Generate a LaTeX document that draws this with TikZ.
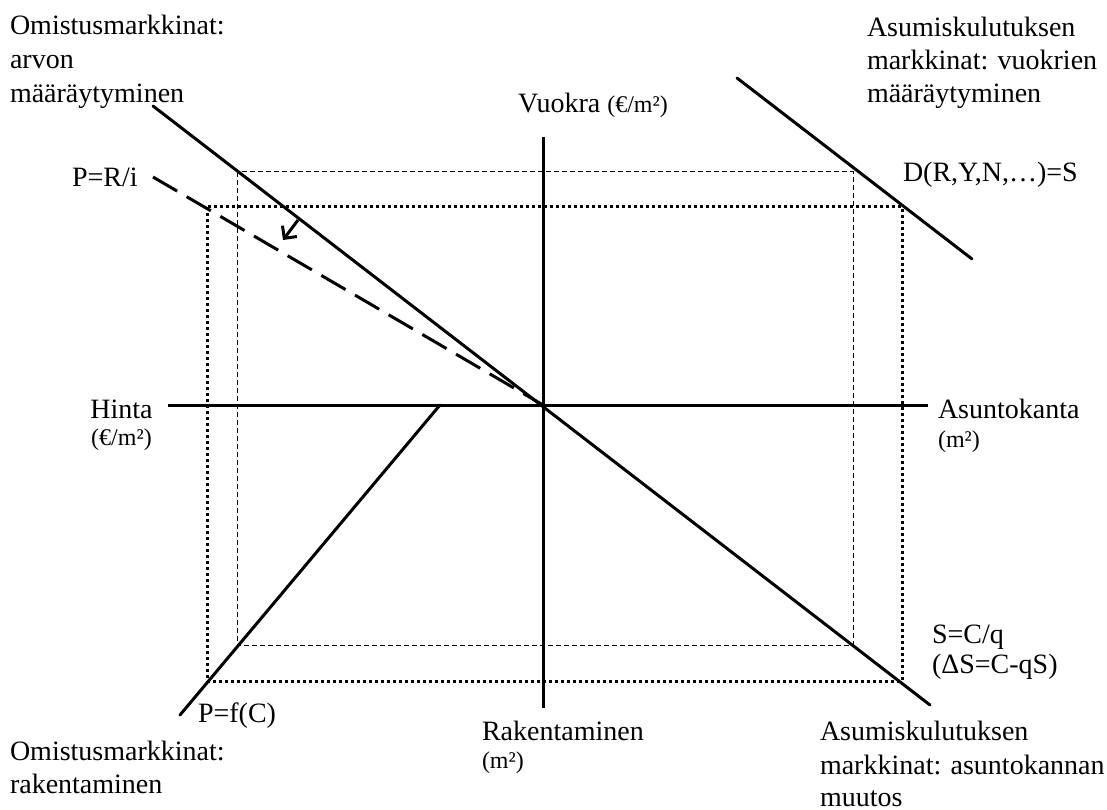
\documentclass[tikz,border=0pt]{standalone}
\usepackage{fontspec}
\setmainfont{Liberation Serif}
\usetikzlibrary{arrows.meta}
\tikzset{
  lbl/.style={inner sep=0pt, outer sep=0pt, font=\fontsize{28}{34}\selectfont},
  smalllbl/.style={inner sep=0pt, outer sep=0pt, font=\fontsize{24}{30}\selectfont},
  curve/.style={line width=3pt, line cap=round},
  axis/.style={line width=3pt},
  dotrect/.style={line width=3pt, dash pattern=on 3pt off 3pt},
  thinrect/.style={line width=1pt, dash pattern=on 5pt off 3pt},
  rdash/.style={line width=3pt, dash pattern=on 28pt off 11pt},
  shiftarrow/.style={line width=3pt, -{Straight Barb[length=9pt,width=18pt,line width=3pt]}},
}
\newcommand{\sm}[1]{{\fontsize{24}{30}\selectfont #1}}
\begin{document}
\begin{tikzpicture}[x=1pt,y=-1pt]
\useasboundingbox (0,0) rectangle (1107,810);
% coordinates
\coordinate (O) at (543,405);
\coordinate (vtop) at (543,137);
\coordinate (vbot) at (543,708);
\coordinate (hl) at (168,405);
\coordinate (hr) at (928,405);
\coordinate (m1) at (153,106);
\coordinate (m2) at (930,705);
\coordinate (d1) at (153,177);
\coordinate (u1) at (737,78);
\coordinate (u2) at (972,259);
\coordinate (c1) at (440,405);
\coordinate (c2) at (180,715);
\coordinate (at) at (298,220);
\coordinate (ah) at (283,240);
% rectangles
\draw[thinrect] (237,172) rectangle (853,645);
\draw[dotrect] (207,207) rectangle (902,681);
% axes
\draw[axis] (vtop) -- (vbot);
\draw[axis] (hl) -- (hr);
% curves
\draw[curve] (m1) -- (m2);
\draw[curve] (u1) -- (u2);
\draw[curve] (c1) -- (c2);
\draw[rdash] (d1) -- (O);
\draw[shiftarrow] (at) -- (ah);
% labels
\node[lbl, anchor=base west] (tl1) at (10,35) {Omistusmarkkinat:};
\node[lbl, anchor=base west] (tl2) at (10,69) {arvon};
\node[lbl, anchor=base west] (tl3) at (10,103) {määräytyminen};
\node[lbl, anchor=base west] (tr1) at (867,37) {Asumiskulutuksen};
\node[lbl, anchor=base west] (tr2) at (867,70) {markkinat: vuokrien};
\node[lbl, anchor=base west] (tr3) at (867,103) {määräytyminen};
\node[lbl, anchor=base west] (vu) at (518,113) {Vuokra \sm{(€/m²)}};
\node[lbl, anchor=base west] (pr) at (72,187) {P=R/i};
\node[lbl, anchor=base west] (dr) at (903,182) {D(R,Y,N,…)=S};
\node[lbl, anchor=base] (hi) at (121.5,418) {Hinta};
\node[smalllbl, anchor=base] (hi2) at (121.5,445) {(€/m²)};
\node[lbl, anchor=base west] (ak) at (938,418) {Asuntokanta};
\node[smalllbl, anchor=base west] (ak2) at (938,447) {(m²)};
\node[lbl, anchor=base west] (sc) at (932,643) {S=C/q};
\node[lbl, anchor=base west] (ds) at (932,673) {(ΔS=C-qS)};
\node[lbl, anchor=base west] (pf) at (198,722) {P=f(C)};
\node[lbl, anchor=base west] (bl1) at (10,760) {Omistusmarkkinat:};
\node[lbl, anchor=base west] (bl2) at (10,793) {rakentaminen};
\node[lbl, anchor=base west] (rk) at (482,740) {Rakentaminen};
\node[smalllbl, anchor=base west] (rk2) at (482,768) {(m²)};
\node[lbl, anchor=base west] (br1) at (820,740) {Asumiskulutuksen};
\node[lbl, anchor=base west] (br2) at (820,774) {markkinat: asuntokannan};
\node[lbl, anchor=base west] (br3) at (820,806) {muutos};
\end{tikzpicture}
\end{document}
